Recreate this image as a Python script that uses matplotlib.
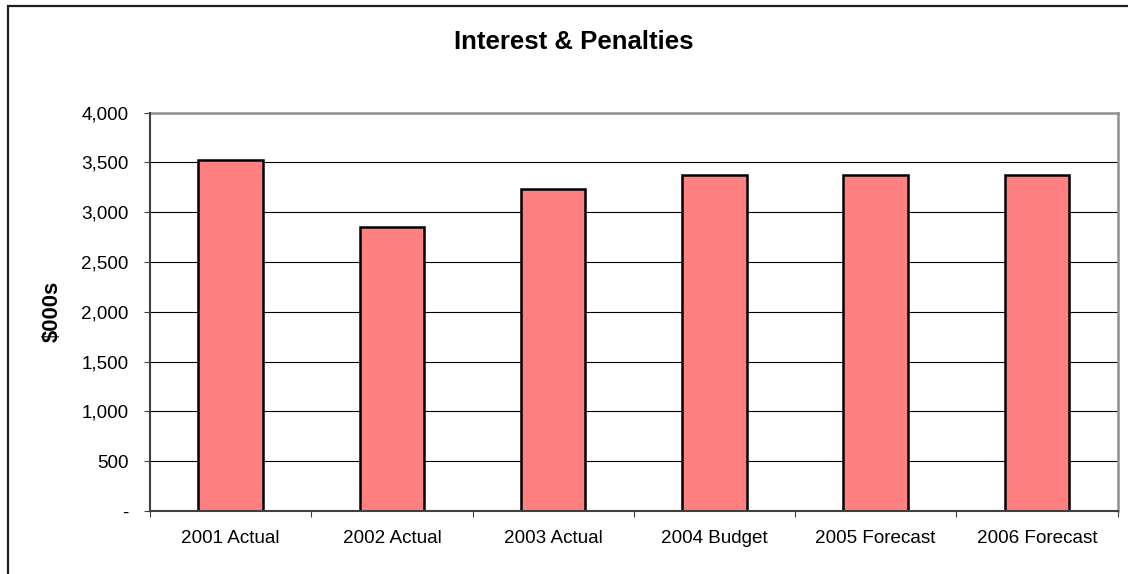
import numpy as np
import matplotlib
matplotlib.use("Agg")
import matplotlib.pyplot as plt
from matplotlib.patches import Rectangle
from matplotlib.ticker import FuncFormatter, MultipleLocator

plt.rcParams['font.family'] = ['Liberation Sans', 'DejaVu Sans']

# Interest & penalties by year ($000s)
categories = ['2001 Actual', '2002 Actual', '2003 Actual', '2004 Budget', '2005 Forecast', '2006 Forecast']
values = [3520, 2850, 3230, 3375, 3375, 3375]

fig = plt.figure(figsize=(11.28, 5.74), dpi=100)
ax = fig.add_axes([0.1330, 0.1098, 0.8577, 0.6942])

x = np.arange(len(categories))
ax.bar(x, values, width=0.4, color='#FF8080', edgecolor='black', linewidth=1.8, zorder=3)

ax.set_xlim(-0.5, len(categories) - 0.5)
ax.set_ylim(0, 4000)

# y axis: comma thousands, dash for zero
ax.yaxis.set_major_locator(MultipleLocator(500))
ax.yaxis.set_major_formatter(FuncFormatter(lambda v, p: '-' if v == 0 else f'{int(v):,}'))
ax.grid(axis='y', color='black', linewidth=0.8, zorder=1)
ax.tick_params(axis='y', direction='out', length=4.5, width=0.8, color='#404040',
               labelsize=13.6, pad=11)

# x axis: labels at bar centres, tick marks between categories
ax.set_xticks(x)
ax.set_xticklabels(categories)
ax.set_xticks(np.arange(-0.5, len(categories)), minor=True)
ax.tick_params(axis='x', which='major', length=0, labelsize=13.6, pad=14)
ax.tick_params(axis='x', which='minor', direction='out', length=4.5, width=0.8, color='#404040')

ax.set_ylabel('$000s', fontsize=15.8, fontweight='bold', labelpad=13)

for side in ['left', 'bottom']:
    ax.spines[side].set_color('#404040')
    ax.spines[side].set_linewidth(1.5)
    ax.spines[side].set_zorder(4)
for side in ['top', 'right']:
    ax.spines[side].set_color('#909090')
    ax.spines[side].set_linewidth(1.8)

fig.text(0.5085, 0.927, 'Interest & Penalties', ha='center', va='center',
         fontsize=18.5, fontweight='bold')

# chart frame
fig.patches.append(Rectangle((8 / 1128, -0.1), 1.2, (574 - 6) / 574 + 0.1,
                             transform=fig.transFigure, fill=False,
                             edgecolor='#202020', linewidth=1.6))

fig.savefig('out.png', dpi=100)
